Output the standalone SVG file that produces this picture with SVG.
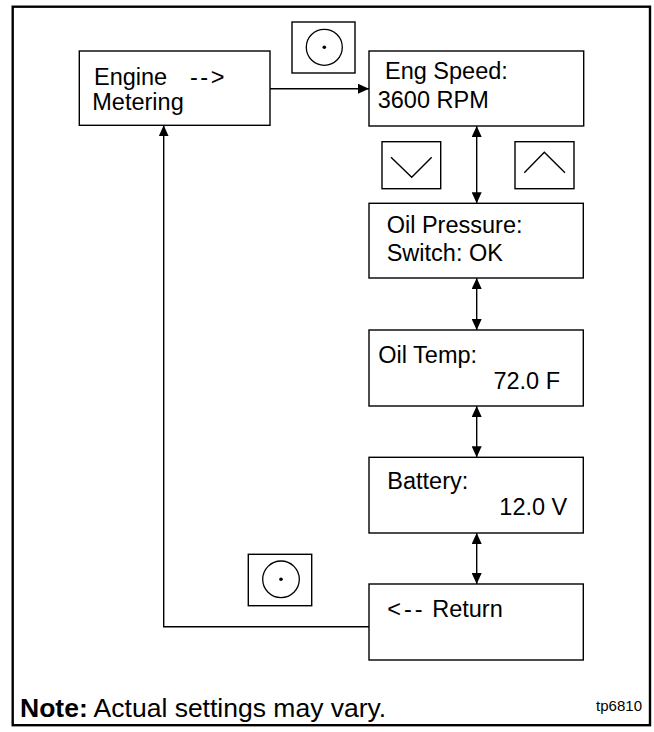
<svg xmlns="http://www.w3.org/2000/svg" width="654" height="732" viewBox="0 0 654 732">
<defs>
<marker id="ah" markerWidth="11" markerHeight="10" refX="11" refY="5" orient="auto-start-reverse" markerUnits="userSpaceOnUse">
<path d="M0,0 L11,5 L0,10 Z" fill="#000"/>
</marker>
<style>
.box{fill:#fff;stroke:#000;stroke-width:1.4}
.btn{fill:#fff;stroke:#000;stroke-width:1.4}
.ln{fill:none;stroke:#000;stroke-width:1.4}
.t{font-family:"Liberation Sans",Arial,Helvetica,sans-serif;font-size:23.5px;fill:#000}
.n{font-family:"Liberation Sans",Arial,Helvetica,sans-serif;font-size:26.5px;fill:#000}
.s{font-family:"Liberation Sans",Arial,Helvetica,sans-serif;font-size:15px;fill:#000}
</style>
</defs>
<rect x="0" y="0" width="654" height="732" fill="#fff"/>
<rect x="12.7" y="6.7" width="637.3" height="718.5" fill="none" stroke="#000" stroke-width="2.4"/>

<g id="connectors">
<path class="ln" d="M270,88.7 H369" marker-end="url(#ah)"/>
<path class="ln" d="M476.7,126 V203.3" marker-start="url(#ah)" marker-end="url(#ah)"/>
<path class="ln" d="M476.7,278 V330" marker-start="url(#ah)" marker-end="url(#ah)"/>
<path class="ln" d="M476.7,406 V457.3" marker-start="url(#ah)" marker-end="url(#ah)"/>
<path class="ln" d="M476.7,533 V584" marker-start="url(#ah)" marker-end="url(#ah)"/>
<path class="ln" d="M369,626.7 H163.7 V125.3" marker-end="url(#ah)"/>
</g>

<g id="engine-metering">
<rect class="box" x="79.3" y="51" width="190.7" height="74.3"/>
<text class="t" x="94" y="85" style="white-space:pre">Engine   <tspan x="190" letter-spacing="2.5">--&gt;</tspan></text>
<text class="t" x="92.3" y="110">Metering</text>
</g>

<g id="select-button-top">
<rect class="btn" x="292" y="22" width="63" height="51"/>
<circle cx="324.3" cy="47.3" r="18" fill="none" stroke="#000" stroke-width="1.3"/>
<circle cx="324.3" cy="47.3" r="1.8" fill="#000"/>
</g>

<g id="eng-speed">
<rect class="box" x="369" y="51" width="214.7" height="75"/>
<text class="t" x="385" y="79">Eng Speed:</text>
<text class="t" x="377.7" y="107.7">3600 RPM</text>
</g>

<g id="down-button">
<rect class="btn" x="382" y="141.7" width="58.7" height="47"/>
<path class="ln" d="M391,157.3 L411.7,177.3 L431.7,157.3" stroke-width="1.2"/>
</g>

<g id="up-button">
<rect class="btn" x="515" y="141.7" width="59" height="47"/>
<path class="ln" d="M524.3,172.7 L544.3,152.3 L565,172.7" stroke-width="1.2"/>
</g>

<g id="oil-pressure">
<rect class="box" x="369" y="203.3" width="214.3" height="74.7"/>
<text class="t" x="386.7" y="232.7">Oil Pressure:</text>
<text class="t" x="386.7" y="261">Switch: OK</text>
</g>

<g id="oil-temp">
<rect class="box" x="369" y="330" width="214.3" height="76"/>
<text class="t" x="378.3" y="363.3">Oil Temp:</text>
<text class="t" x="560" y="389.3" text-anchor="end">72.0 F</text>
</g>

<g id="battery">
<rect class="box" x="369" y="457.3" width="214.3" height="75.7"/>
<text class="t" x="387.3" y="489.3">Battery:</text>
<text class="t" x="567.3" y="515" text-anchor="end">12.0 V</text>
</g>

<g id="select-button-bottom">
<rect class="btn" x="248.3" y="554.3" width="63.4" height="51.4"/>
<circle cx="281" cy="579.3" r="18.3" fill="none" stroke="#000" stroke-width="1.3"/>
<circle cx="281" cy="579.3" r="1.8" fill="#000"/>
</g>

<g id="return">
<rect class="box" x="369" y="584" width="214.3" height="76"/>
<text class="t" x="387.3" y="617.3"><tspan letter-spacing="3">&lt;--</tspan> Return</text>
</g>

<g id="note">
<text class="n" x="20" y="717"><tspan font-weight="bold">Note:</tspan> Actual settings may vary.</text>
<text class="s" x="642" y="711" text-anchor="end">tp6810</text>
</g>
</svg>
